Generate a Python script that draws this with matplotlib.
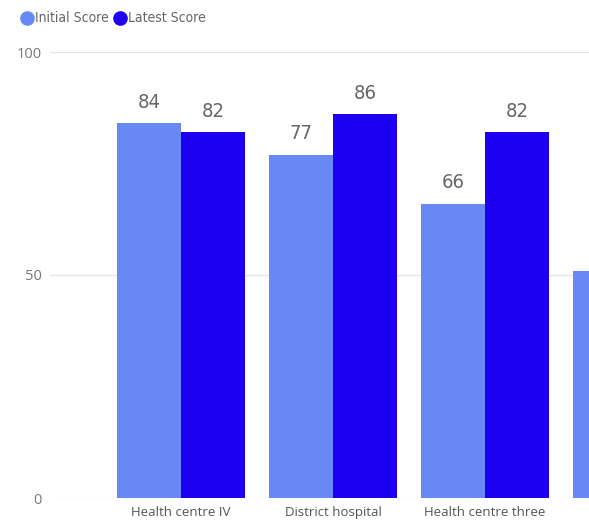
import matplotlib.pyplot as plt
from matplotlib import font_manager
from matplotlib.lines import Line2D
import numpy as np

# chart data
categories = ["Health centre IV", "District hospital", "Health centre three", ""]
initial_score = [84, 77, 66, 51]
latest_score = [82, 86, 82, None]
series_names = ["Initial Score", "Latest Score"]
colors = ["#6889F4", "#1E00F0"]

plt.rcParams['font.family'] = ['Open Sans', 'DejaVu Sans']


def narrow_font():
    # pick a condensed face if one is installed
    found = {}
    for f in font_manager.fontManager.ttflist:
        fname = f.fname.lower()
        if f.weight in (400, 'normal', 'regular') and f.style == 'normal':
            if 'narrow' in fname or 'condensed' in fname:
                found[f.fname] = fname
    for key in ['liberationsansnarrow-regular', 'dejavusanscondensed.', 'condensed-regular', 'narrow']:
        for path, low in found.items():
            if key in low and 'bold' not in low and 'oblique' not in low and 'italic' not in low:
                return font_manager.FontProperties(fname=path)
    return None


narrow = narrow_font()

fig = plt.figure(figsize=(5.89, 5.26), dpi=100)
ax = fig.add_axes([50 / 589, 28 / 526, 1 - 50 / 589, 446 / 526])

x = np.arange(len(categories))
w = 0.418


def value_label(xpos, val):
    kw = dict(ha='center', va='bottom', color='#666666')
    if narrow is not None:
        t = ax.text(xpos, val + 2.6, str(val), fontproperties=narrow, **kw)
        t.set_fontsize(14.5)
    else:
        ax.text(xpos, val + 2.6, str(val), fontsize=13, **kw)


for i, (a, b) in enumerate(zip(initial_score, latest_score)):
    ax.bar(x[i] - w / 2, a, w, color=colors[0], zorder=2)
    value_label(x[i] - w / 2, a)
    if b is not None:
        ax.bar(x[i] + w / 2, b, w, color=colors[1], zorder=2)
        value_label(x[i] + w / 2, b)

ax.set_ylim(0, 100)
ax.set_yticks([0, 50, 100])
ax.set_yticklabels(["0", "50", "100"])
ax.set_xticks(x)
ax.set_xticklabels(categories)
ax.set_xlim(-0.862, 2.684)
ax.tick_params(axis='both', length=0, colors='#777777', labelsize=9.5)
ax.tick_params(axis='x', pad=6, labelcolor='#555555')
ax.tick_params(axis='y', pad=6, labelsize=10.5)
ax.yaxis.grid(True, color='#e6e6e6', linewidth=1, zorder=0)
for s in ax.spines.values():
    s.set_visible(False)

# legend at top-left
ly = 1 - 18 / 526
for cx, tx, col, name in [(27, 35, colors[0], series_names[0]), (120, 128, colors[1], series_names[1])]:
    fig.add_artist(Line2D([cx / 589], [ly], marker='o', markersize=9.5, color=col,
                          linestyle='none', transform=fig.transFigure))
    if narrow is not None:
        t = fig.text(tx / 589, ly, name, color='#666666', va='center', fontproperties=narrow)
        t.set_fontsize(10)
    else:
        fig.text(tx / 589, ly, name, color='#666666', va='center', fontsize=9)

fig.savefig("out.png", dpi=100)
